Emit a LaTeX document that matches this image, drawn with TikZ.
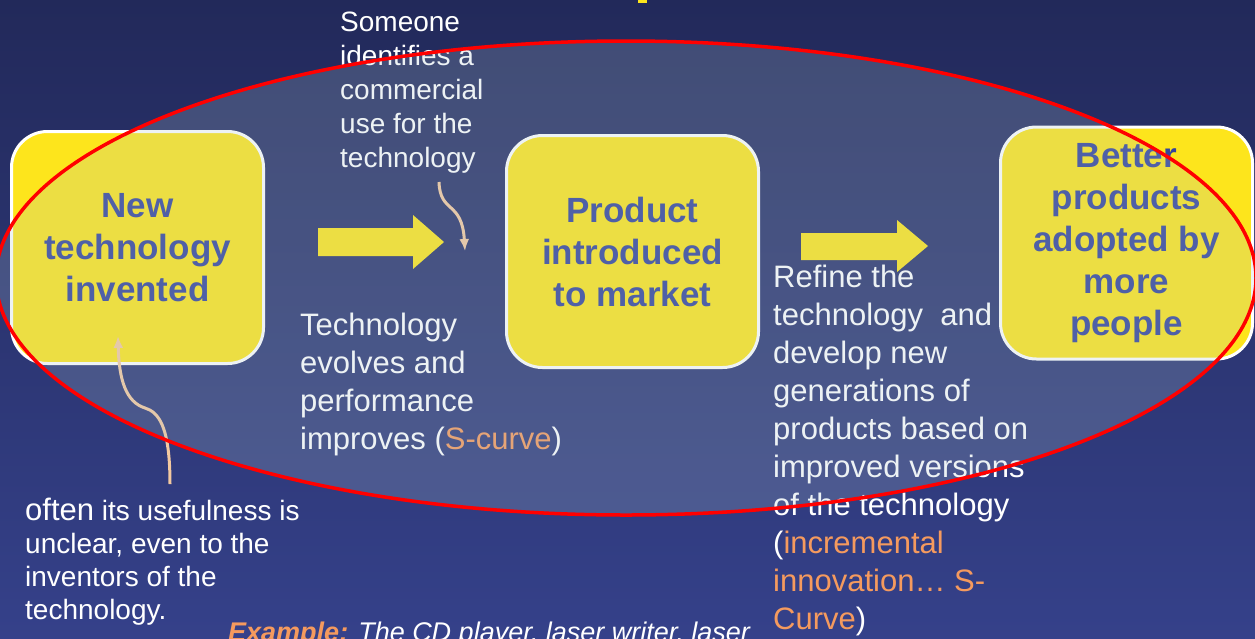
\documentclass[tikz,border=0pt]{standalone}
\usepackage{fontspec}
\setmainfont{Liberation Sans}
\usepackage{xcolor}
\usetikzlibrary{calc, arrows.meta, positioning}

\definecolor{bgtop}{HTML}{22295A}
\definecolor{bgbot}{HTML}{35418A}
\definecolor{boxyellow}{HTML}{FDE51C}
\definecolor{boxtext}{HTML}{34449C}
\definecolor{notecol}{HTML}{F59A5E}
\definecolor{curlcol}{HTML}{F3C9A0}
\definecolor{ovalfill}{HTML}{B0C8D0}

\tikzset{
  stage/.style={draw=white, line width=3pt, fill=boxyellow, rounded corners=36pt,
    minimum width=252pt, minimum height=232pt, align=center, text=boxtext,
    font=\fontsize{35}{42}\selectfont\bfseries},
  note/.style={anchor=north west, align=left, text=white, inner sep=0pt},
  curl/.style={draw=curlcol, line width=3pt, -{Latex[length=12pt,width=10pt]}},
  bigarrow/.style={fill=boxyellow},
}

\begin{document}
\begin{tikzpicture}[x=1pt, y=-1pt]
    \useasboundingbox (0,0) rectangle (1255,638);
    % 1. Nền
    \shade[top color=bgtop, bottom color=bgbot] (0,0) rectangle (1255,638);
    \fill[boxyellow] (638,0) rectangle (647,2.5);

    % 2. Ba giai đoạn
    \node[stage] (invent) at (137.5,247.5) {New\\technology\\invented};
    \node[stage] (market) at (632.5,251.5) {Product\\introduced\\to market};
    \node[stage] (adopt) at (1126.5,243) {Better\\products\\adopted by\\more\\people};

    % 3. Mũi tên lớn
    \fill[bigarrow] (318,228) -- (413,228) -- (413,215) -- (444,242)
        -- (413,269) -- (413,256) -- (318,256) -- cycle;
    \fill[bigarrow] (801,233) -- (897,233) -- (897,220) -- (928,246)
        -- (897,272) -- (897,260) -- (801,260) -- cycle;

    % 4. Chú thích
    \node[note, font=\fontsize{28}{34}\selectfont] (useNote) at (340,12)
        {Someone\\identifies a\\commercial\\use for the\\technology};
    \node[note, font=\fontsize{31}{38}\selectfont] (evolveNote) at (300,313)
        {Technology\\evolves and\\performance\\improves ({\color{notecol}S-curve})};
    \node[note, font=\fontsize{31}{38}\selectfont] (refineNote) at (773,265)
        {Refine the\\technology~ and\\develop new\\generations of\\products based on\\improved versions\\of the technology\\({\color{notecol}incremental}\\{\color{notecol}innovation… S-}\\{\color{notecol}Curve})};
    \node[note, font=\fontsize{28}{33}\selectfont] (oftenNote) at (25,498)
        {{\fontsize{31}{33}\selectfont often} its usefulness is\\unclear, even to the\\inventors of the\\technology.};
    \node[anchor=base west, inner sep=0pt, text=white, font=\fontsize{27}{32}\selectfont\itshape]
        (example) at (228,641) {{\bfseries\color{notecol}Example:} The CD player, laser writer, laser};

    % 5. Mũi tên cong
    \coordinate (useTail) at (439,182);
    \coordinate (useTip) at (465,251);
    \draw[curl] (useTail) .. controls (440,214) and (462,200) .. (useTip);
    \coordinate (oftenTail) at (170,484);
    \coordinate (oftenTip) at (118,336);
    \draw[curl] (oftenTail) .. controls (170,425) and (158,412) .. (145,408)
        .. controls (126,402) and (119,380) .. (oftenTip);

    % 6. Hình elip
    \draw[red, line width=3.5pt, fill=ovalfill, fill opacity=0.22]
        (626,278) ellipse [x radius=630pt, y radius=237pt];
\end{tikzpicture}
\end{document}
